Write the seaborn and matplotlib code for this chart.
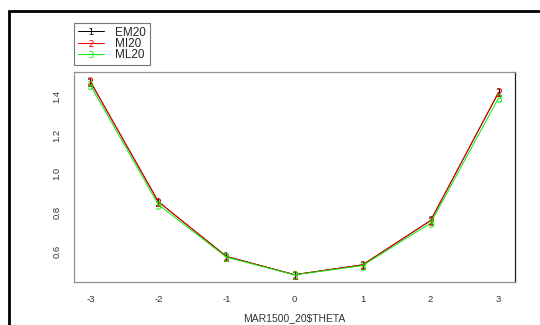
import matplotlib
matplotlib.use("Agg")
import matplotlib.pyplot as plt
import seaborn as sns
import pandas as pd
from matplotlib.lines import Line2D

theta = [-3, -2, -1, 0, 1, 2, 3]
em20 = [1.478, 0.855, 0.572, 0.477, 0.528, 0.758, 1.423]
mi20 = [1.480, 0.855, 0.571, 0.477, 0.528, 0.757, 1.424]
ml20 = [1.460, 0.840, 0.568, 0.476, 0.524, 0.744, 1.395]
series = ["EM20", "MI20", "ML20"]
colors = ["#000000", "#FF0000", "#00EE00"]
marks = ["$1$", "$2$", "$3$"]

rows = []
for name, vals in zip(series, [em20, mi20, ml20]):
    for t, v in zip(theta, vals):
        rows.append({"theta": t, "value": v, "series": name})
df = pd.DataFrame(rows)

sns.set_style("white")
plt.rcParams["font.family"] = ["Liberation Sans", "DejaVu Sans"]

fig = plt.figure(figsize=(5.4, 3.25), dpi=100)
ax = fig.add_axes([74/540, 1-282/325, (515-74)/540, (282-72)/325])

sns.lineplot(data=df, x="theta", y="value", hue="series", style="series",
             palette=dict(zip(series, colors)), markers=dict(zip(series, marks)),
             dashes=False, linewidth=0.7, markersize=6, markeredgewidth=0.0,
             ax=ax, legend=True)

for ln in ax.lines:
    c = ln.get_color()
    ln.set_markeredgecolor(c)
    ln.set_markerfacecolor(c)

handles, labels = ax.get_legend_handles_labels()
ax.get_legend().remove()
for h in handles:
    c = h.get_color()
    h.set_markeredgecolor(c)
    h.set_markerfacecolor(c)
    h.set_markeredgewidth(0)
    h.set_markersize(5)
    h.set_linewidth(0.7)

ax.set_xlim(-3.24, 3.24)
ax.set_ylim(0.439, 1.528)
ax.set_xticks(theta)
ax.set_xticklabels([str(t) for t in theta])
ax.set_yticks([0.6, 0.8, 1.0, 1.2, 1.4])
ax.set_yticklabels(["0.6", "0.8", "1.0", "1.2", "1.4"], rotation=90, va="center")
ax.tick_params(axis="both", direction="out", length=4, width=0.8,
               labelsize=6.8, pad=5)
ax.tick_params(axis="both", colors="#808080", labelcolor="#333333")
ax.set_xlabel("MAR1500_20$THETA", fontsize=7.5, color="#333333", labelpad=7)
ax.set_ylabel("")
for side, sp in ax.spines.items():
    sp.set_visible(True)
    sp.set_linewidth(0.9)
    sp.set_color("#909090")
ax.spines["right"].set_color("#202020")

leg = fig.legend(handles, labels, loc="upper left",
                 bbox_to_anchor=(74/540, 1-23/325), fontsize=8.5,
                 frameon=True, fancybox=False, edgecolor="#555555",
                 handlelength=2.2, borderpad=0.3, labelspacing=-0.05,
                 handletextpad=1.0, borderaxespad=0)
leg.get_frame().set_linewidth(0.8)

fig.add_artist(Line2D([9/540, 9/540], [0, 1-11/325], color="black", linewidth=2,
                      transform=fig.transFigure))
fig.add_artist(Line2D([9/540, 1], [1-11/325, 1-11/325], color="black", linewidth=2,
                      transform=fig.transFigure))

fig.savefig("out.png", dpi=100)
